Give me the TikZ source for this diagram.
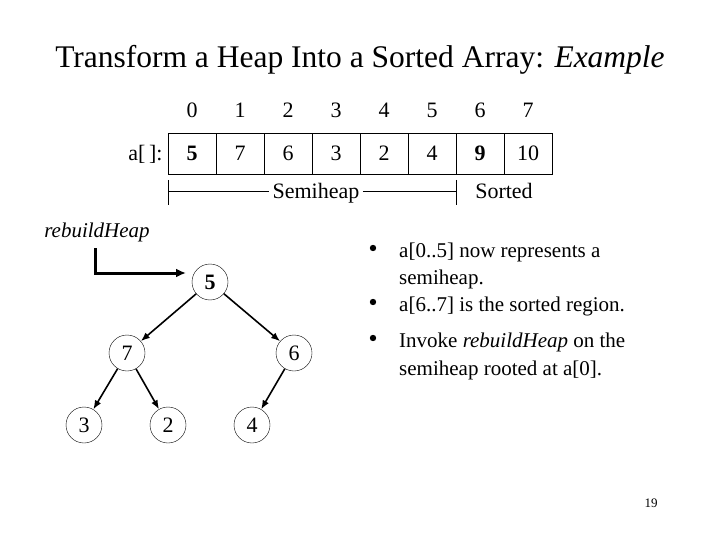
\documentclass[tikz,border=0pt]{standalone}
\usepackage{fontspec}
\usetikzlibrary{arrows.meta}
\setmainfont{Liberation Serif}
\begin{document}
\begin{tikzpicture}[x=1pt,y=-1pt,
  big/.style={font=\fontsize{22}{26}\selectfont},
  cell/.style={draw,big,minimum width=48pt,minimum height=41pt,inner sep=0,text height=15pt,text depth=0pt},
  idx/.style={big,text height=15pt,text depth=0pt},
  hn/.style={circle,draw,thin,minimum size=36pt,inner sep=0,big},
  edge/.style={-{Latex[length=9pt,width=7pt]},line width=1.6pt},
  txt/.style={font=\fontsize{21}{25}\selectfont,anchor=west,inner sep=0}]
\useasboundingbox (0,0) rectangle (720,540);
\node[font=\fontsize{31.5}{36}\selectfont] (title) at (360,60) {Transform a Heap Into a Sorted Array: \textit{Example}};
\foreach \v [count=\i from 0] in {\textbf{5},7,6,3,2,4,\textbf{9},10}{
  \node[cell] (c\i) at (192+48*\i,153.5) {\v};
  \node[idx] (i\i) at (192+48*\i,110) {\i};
}
\node[idx,anchor=east] (alab) at (166,153.5) {a[\,]:};
\node[idx] (semi) at (316,191) {Semiheap};
\node[idx] (sorted) at (504,191) {Sorted};
\coordinate (s0) at (168,180); \coordinate (s0b) at (168,205);
\coordinate (s1) at (456,180); \coordinate (s1b) at (456,205);
\draw (s0) -- (s0b); \draw (s1) -- (s1b);
\coordinate (h0) at (168,191); \coordinate (h1) at (456,191);
\draw (h0) -- (semi.west); \draw (semi.east) -- (h1);
\node[big,font=\fontsize{21}{25}\selectfont\itshape] (rb) at (97,232) {rebuildHeap};
\node[hn] (n0) at (210,282) {\textbf{5}};
\node[hn] (n1) at (127,353) {7};
\node[hn] (n2) at (294,353) {6};
\node[hn] (n3) at (84,425) {3};
\node[hn] (n4) at (168,425) {2};
\node[hn] (n5) at (252,425) {4};
\coordinate (p1) at (95,248); \coordinate (p2) at (95,273); \coordinate (p3) at (186,273);
\draw[-{Latex[length=10pt,width=9pt]},line width=3pt] (p1) -- (p2) -- (p3);
\draw[edge] (n0) -- (n1); \draw[edge] (n0) -- (n2);
\draw[edge] (n1) -- (n3); \draw[edge] (n1) -- (n4);
\draw[edge] (n2) -- (n5);
\foreach \y/\t in {252/{a[0..5] now represents a},306/{a[6..7] is the sorted region.},342/{Invoke \textit{rebuildHeap} on the}}{
  \fill (373,\y-4) circle (3.2pt);
  \node[txt] at (399,\y) {\t};
}
\node[txt] (l2) at (399,279) {semiheap.};
\node[txt] (l5) at (399,370) {semiheap rooted at a[0].};
\node[font=\fontsize{13}{15}\selectfont] (pg) at (651,503) {19};
\end{tikzpicture}
\end{document}
